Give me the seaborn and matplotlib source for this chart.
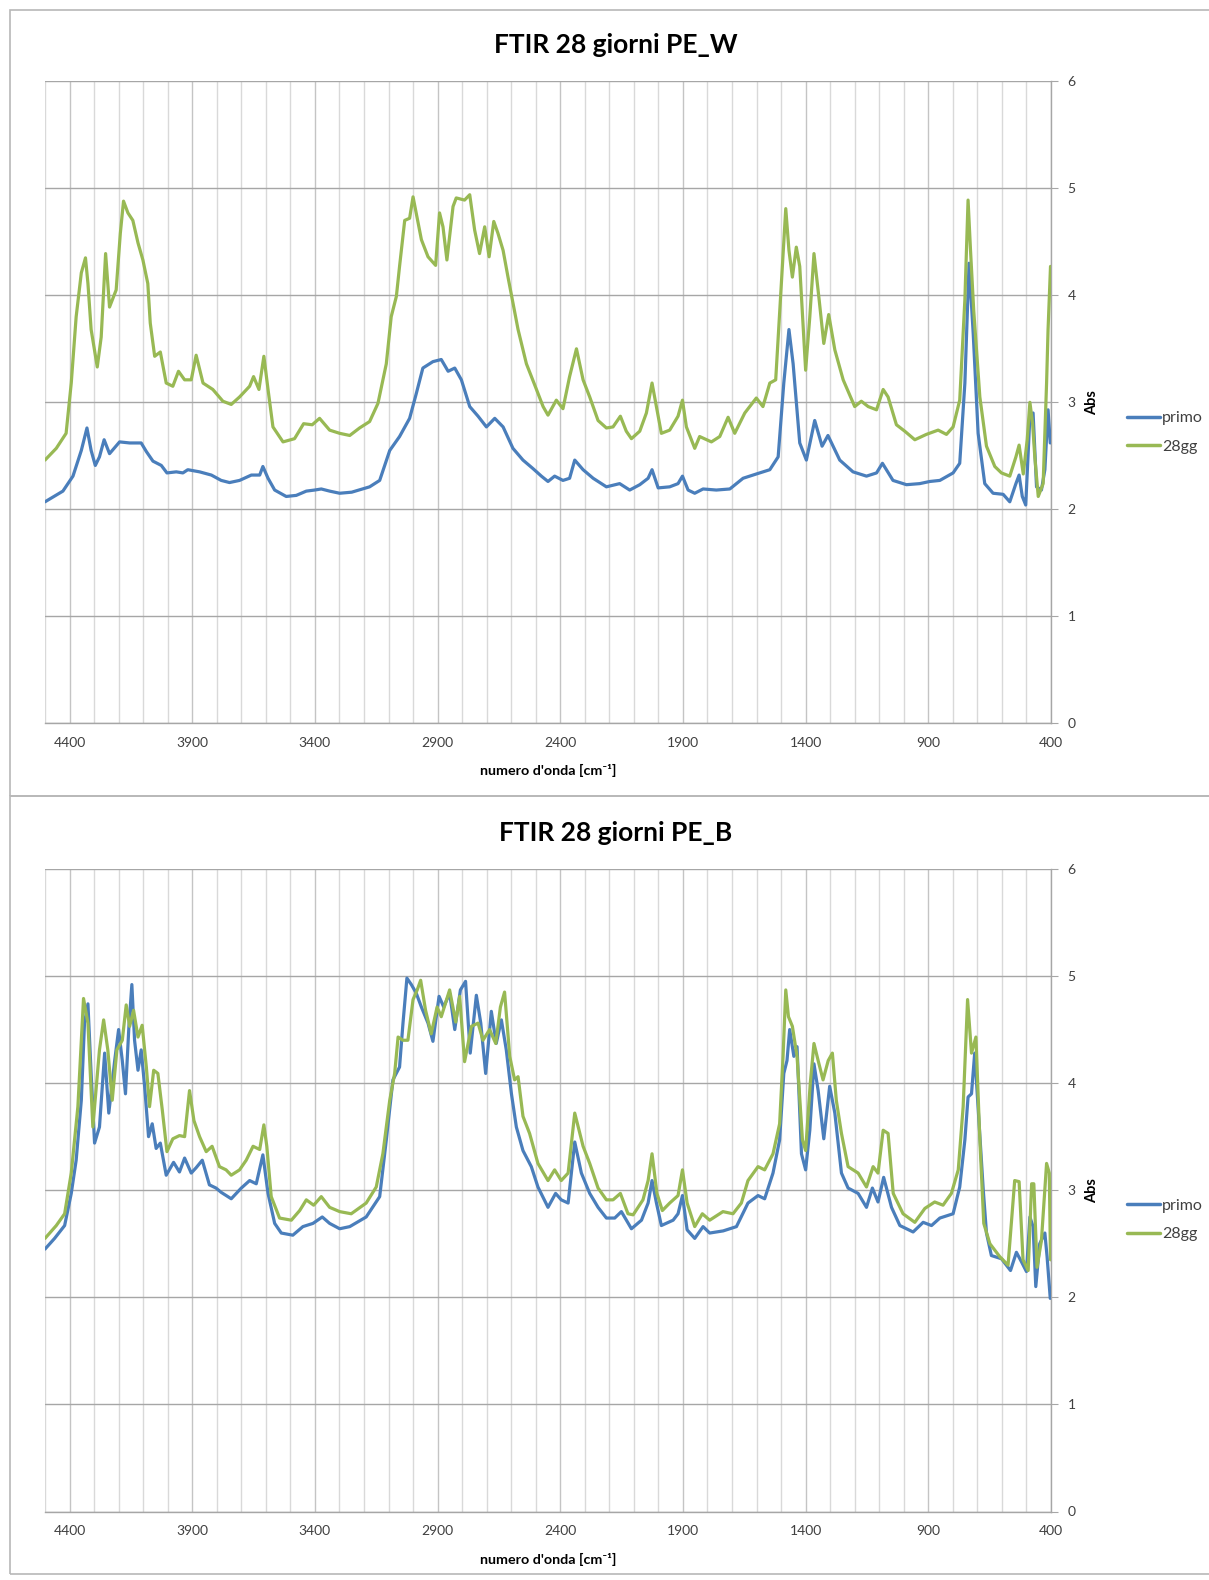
import numpy as np
import pandas as pd
import matplotlib
matplotlib.use("Agg")
import matplotlib.pyplot as plt
from matplotlib.patches import Rectangle
import seaborn as sns

# ---------------- data ----------------
series_names = ["primo", "28gg"]
panel_titles = ["FTIR 28 giorni PE_W", "FTIR 28 giorni PE_B"]
x_tick_labels = [4400, 3900, 3400, 2900, 2400, 1900, 1400, 900, 400]
y_tick_labels = [0, 1, 2, 3, 4, 5, 6]

W_primo_wn = [4500, 4427, 4386, 4352, 4329, 4312, 4295, 4278, 4259, 4237, 4196, 4155, 4108, 4087, 4060,
              4026, 4003, 3965, 3938, 3918, 3870, 3822, 3782, 3748, 3707, 3659, 3625, 3612, 3591, 3564,
              3517, 3476, 3435, 3401, 3374, 3340, 3299, 3250, 3177, 3136, 3095, 3055, 3014, 2987, 2960,
              2919, 2885, 2857, 2830, 2803, 2769, 2735, 2701, 2667, 2633, 2593, 2552, 2511, 2477, 2450,
              2423, 2389, 2362, 2341, 2307, 2266, 2212, 2158, 2117, 2076, 2042, 2026, 2001, 1954, 1920,
              1902, 1879, 1852, 1818, 1764, 1709, 1655, 1601, 1546, 1512, 1489, 1468, 1451, 1424, 1397,
              1363, 1333, 1309, 1261, 1207, 1152, 1111, 1087, 1044, 989, 935, 894, 853, 799, 772, 751,
              734, 717, 697, 670, 636, 595, 568, 543, 530, 517, 503, 486, 473, 459, 439, 425, 412, 403]
W_primo_abs = [2.07, 2.17, 2.31, 2.55, 2.76, 2.55, 2.41, 2.49, 2.65, 2.52, 2.63, 2.62, 2.62, 2.54, 2.45,
               2.41, 2.34, 2.35, 2.34, 2.37, 2.35, 2.32, 2.27, 2.25, 2.27, 2.32, 2.32, 2.40, 2.29, 2.18,
               2.12, 2.13, 2.17, 2.18, 2.19, 2.17, 2.15, 2.16, 2.21, 2.27, 2.55, 2.68, 2.85, 3.08, 3.32,
               3.38, 3.40, 3.29, 3.32, 3.21, 2.96, 2.87, 2.77, 2.85, 2.77, 2.57, 2.46, 2.38, 2.31, 2.26,
               2.31, 2.27, 2.29, 2.46, 2.37, 2.29, 2.21, 2.24, 2.18, 2.23, 2.29, 2.37, 2.20, 2.21, 2.24,
               2.31, 2.18, 2.15, 2.19, 2.18, 2.19, 2.29, 2.33, 2.37, 2.49, 3.18, 3.68, 3.36, 2.62, 2.46,
               2.83, 2.59, 2.69, 2.46, 2.35, 2.31, 2.34, 2.43, 2.27, 2.23, 2.24, 2.26, 2.27, 2.34, 2.43, 3.18,
               4.30, 3.64, 2.71, 2.24, 2.15, 2.14, 2.07, 2.24, 2.32, 2.12, 2.04, 2.87, 2.90, 2.21, 2.18, 2.37, 2.93, 2.62]

W_28gg_wn = [4500, 4454, 4414, 4393, 4373, 4352, 4335, 4325, 4312, 4287, 4271, 4253, 4237, 4210, 4193,
             4180, 4162, 4142, 4121, 4101, 4081, 4071, 4053, 4030, 4006, 3979, 3956, 3931, 3904, 3884,
             3856, 3816, 3775, 3741, 3707, 3666, 3650, 3628, 3608, 3591, 3571, 3530, 3483, 3446, 3411,
             3381, 3340, 3299, 3258, 3218, 3177, 3143, 3109, 3089, 3068, 3055, 3034, 3014, 3000, 2987,
             2966, 2939, 2908, 2892, 2878, 2862, 2837, 2824, 2790, 2769, 2749, 2729, 2708, 2690, 2671,
             2654, 2633, 2613, 2593, 2572, 2538, 2497, 2470, 2450, 2416, 2389, 2362, 2334, 2307, 2280,
             2246, 2212, 2185, 2155, 2131, 2110, 2076, 2049, 2026, 2001, 1988, 1954, 1920, 1902, 1886,
             1852, 1832, 1784, 1750, 1716, 1689, 1648, 1601, 1574, 1546, 1522, 1503, 1481, 1468, 1454,
             1438, 1424, 1400, 1383, 1366, 1345, 1326, 1306, 1281, 1247, 1200, 1173, 1145, 1111, 1084,
             1064, 1030, 996, 955, 908, 860, 826, 799, 772, 751, 738, 728, 715, 690, 663, 629, 602, 568,
             543, 530, 513, 497, 486, 475, 466, 452, 432, 418, 412, 402]
W_28gg_abs = [2.46, 2.57, 2.71, 3.18, 3.80, 4.21, 4.35, 4.11, 3.68, 3.33, 3.61, 4.39, 3.89, 4.05, 4.58,
              4.88, 4.77, 4.70, 4.49, 4.33, 4.11, 3.74, 3.43, 3.47, 3.18, 3.15, 3.29, 3.21, 3.21, 3.44,
              3.18, 3.12, 3.01, 2.98, 3.05, 3.15, 3.24, 3.12, 3.43, 3.12, 2.77, 2.63, 2.66, 2.80, 2.79,
              2.85, 2.74, 2.71, 2.69, 2.76, 2.82, 2.99, 3.36, 3.80, 3.99, 4.27, 4.70, 4.72, 4.92, 4.77,
              4.52, 4.36, 4.28, 4.77, 4.64, 4.33, 4.83, 4.91, 4.89, 4.94, 4.61, 4.39, 4.64, 4.36, 4.69,
              4.58, 4.42, 4.17, 3.93, 3.68, 3.36, 3.12, 2.96, 2.88, 3.02, 2.94, 3.24, 3.50, 3.21, 3.05,
              2.83, 2.76, 2.77, 2.87, 2.73, 2.66, 2.73, 2.90, 3.18, 2.87, 2.71, 2.74, 2.87, 3.02, 2.77,
              2.57, 2.68, 2.63, 2.68, 2.86, 2.71, 2.90, 3.04, 2.96, 3.18, 3.21, 3.96, 4.81, 4.42, 4.17,
              4.45, 4.27, 3.30, 3.80, 4.39, 3.96, 3.55, 3.82, 3.49, 3.21, 2.96, 3.01, 2.96, 2.93, 3.12,
              3.05, 2.79, 2.73, 2.65, 2.70, 2.74, 2.70, 2.77, 3.02, 3.96, 4.89, 4.42, 3.86, 3.05, 2.59, 2.40, 2.34, 2.31,
              2.49, 2.60, 2.33, 2.65, 3.00, 2.80, 2.49, 2.12, 2.24, 3.18, 3.68, 4.27]

B_primo_wn = [4500, 4461, 4420, 4393, 4373, 4352, 4339, 4325, 4312, 4298, 4278, 4257, 4240, 4216, 4200,
              4185, 4172, 4158, 4146, 4135, 4121, 4108, 4094, 4078, 4063, 4047, 4030, 4006, 3976, 3952,
              3931, 3904, 3884, 3859, 3830, 3803, 3782, 3741, 3700, 3666, 3639, 3612, 3591, 3564, 3537,
              3490, 3449, 3408, 3370, 3340, 3299, 3258, 3191, 3136, 3109, 3082, 3055, 3041, 3025, 3007,
              2987, 2966, 2939, 2919, 2894, 2875, 2851, 2830, 2807, 2786, 2767, 2742, 2724, 2704, 2681,
              2661, 2640, 2620, 2599, 2579, 2552, 2518, 2491, 2450, 2419, 2396, 2368, 2341, 2314, 2280,
              2246, 2212, 2178, 2151, 2110, 2069, 2042, 2026, 2008, 1988, 1940, 1920, 1902, 1883, 1852,
              1818, 1791, 1736, 1682, 1635, 1594, 1567, 1533, 1506, 1489, 1476, 1465, 1448, 1435, 1417,
              1400, 1383, 1366, 1349, 1326, 1302, 1281, 1254, 1227, 1186, 1152, 1128, 1105, 1082, 1050,
              1016, 962, 921, 887, 853, 799, 772, 751, 738, 724, 711, 693, 676, 663, 643, 602, 565, 541,
              520, 500, 486, 473, 462, 446, 425, 416, 403]
B_primo_abs = [2.45, 2.55, 2.67, 2.97, 3.28, 3.84, 4.56, 4.74, 4.09, 3.44, 3.59, 4.28, 3.72, 4.21, 4.50,
               4.21, 3.90, 4.53, 4.92, 4.40, 4.12, 4.31, 3.97, 3.50, 3.62, 3.39, 3.44, 3.14, 3.26, 3.17,
               3.30, 3.16, 3.21, 3.28, 3.05, 3.02, 2.98, 2.92, 3.02, 3.09, 3.06, 3.33, 2.97, 2.69, 2.60,
               2.58, 2.66, 2.69, 2.75, 2.69, 2.64, 2.66, 2.75, 2.94, 3.47, 4.03, 4.15, 4.56, 4.98, 4.92,
               4.84, 4.71, 4.56, 4.39, 4.81, 4.71, 4.84, 4.50, 4.87, 4.95, 4.28, 4.82, 4.56, 4.09, 4.67,
               4.37, 4.59, 4.31, 3.90, 3.59, 3.37, 3.22, 3.03, 2.84, 2.97, 2.91, 2.88, 3.45, 3.16, 2.97,
               2.84, 2.74, 2.74, 2.80, 2.64, 2.72, 2.88, 3.09, 2.88, 2.67, 2.72, 2.78, 2.95, 2.63, 2.55,
               2.66, 2.60, 2.62, 2.66, 2.88, 2.95, 2.92, 3.16, 3.47, 4.09, 4.21, 4.50, 4.25, 4.34, 3.34,
               3.19, 3.56, 4.18, 3.93, 3.48, 3.97, 3.72, 3.16, 3.02, 2.97, 2.84, 3.02, 2.89, 3.12, 2.84,
               2.67, 2.61, 2.70, 2.67, 2.74, 2.78, 3.03, 3.47, 3.87, 3.90, 4.28, 3.62, 3.00, 2.60, 2.39, 2.36, 2.25, 2.42,
               2.33, 2.24, 2.75, 2.66, 2.10, 2.50, 2.60, 2.38, 1.99]

B_28gg_wn = [4500, 4454, 4420, 4393, 4366, 4343, 4325, 4305, 4278, 4261, 4244, 4226, 4207, 4185, 4169,
             4155, 4139, 4121, 4104, 4087, 4074, 4057, 4040, 4022, 4003, 3979, 3952, 3931, 3911, 3893,
             3870, 3843, 3819, 3789, 3762, 3741, 3707, 3680, 3652, 3625, 3608, 3596, 3578, 3544, 3496,
             3462, 3435, 3405, 3374, 3340, 3299, 3252, 3191, 3150, 3123, 3095, 3075, 3061, 3041, 3021,
             3000, 2983, 2969, 2949, 2926, 2902, 2885, 2851, 2826, 2810, 2790, 2762, 2735, 2715, 2688,
             2663, 2644, 2627, 2606, 2586, 2572, 2552, 2525, 2491, 2450, 2423, 2396, 2368, 2341, 2307,
             2280, 2246, 2212, 2185, 2155, 2124, 2103, 2063, 2042, 2026, 2006, 1984, 1954, 1920, 1902,
             1883, 1852, 1821, 1791, 1737, 1696, 1662, 1635, 1594, 1567, 1533, 1506, 1492, 1481, 1470,
             1454, 1435, 1413, 1400, 1381, 1366, 1349, 1329, 1308, 1291, 1275, 1254, 1227, 1186, 1152,
             1125, 1105, 1084, 1064, 1043, 1003, 955, 914, 874, 840, 806, 778, 758, 740, 724, 706, 690,
             674, 649, 609, 575, 548, 530, 514, 493, 479, 470, 457, 439, 418, 407, 402]
B_28gg_abs = [2.55, 2.67, 2.78, 3.16, 3.78, 4.79, 4.56, 3.59, 4.31, 4.59, 4.31, 3.84, 4.31, 4.40, 4.73,
              4.53, 4.68, 4.43, 4.54, 4.15, 3.78, 4.12, 4.09, 3.75, 3.36, 3.48, 3.51, 3.50, 3.93, 3.65,
              3.50, 3.36, 3.41, 3.22, 3.19, 3.14, 3.19, 3.28, 3.41, 3.38, 3.61, 3.41, 2.94, 2.74, 2.72,
              2.81, 2.91, 2.86, 2.94, 2.84, 2.80, 2.78, 2.88, 3.03, 3.34, 3.84, 4.09, 4.43, 4.40, 4.40,
              4.78, 4.87, 4.96, 4.68, 4.46, 4.71, 4.62, 4.87, 4.57, 4.81, 4.20, 4.53, 4.56, 4.40, 4.50,
              4.37, 4.71, 4.85, 4.25, 4.03, 4.06, 3.69, 3.53, 3.25, 3.09, 3.19, 3.09, 3.16, 3.72, 3.41,
              3.25, 3.02, 2.91, 2.91, 2.97, 2.78, 2.77, 2.91, 3.09, 3.34, 2.97, 2.81, 2.88, 2.95, 3.19,
              2.88, 2.66, 2.78, 2.72, 2.80, 2.78, 2.88, 3.09, 3.22, 3.19, 3.34, 3.62, 4.25, 4.87, 4.62,
              4.53, 4.25, 3.47, 3.37, 4.00, 4.37, 4.21, 4.03, 4.21, 4.28, 3.84, 3.53, 3.22, 3.16, 3.03,
              3.22, 3.16, 3.56, 3.53, 2.97, 2.78, 2.70, 2.83, 2.89, 2.86, 2.97, 3.19, 3.78, 4.78, 4.28, 4.43, 3.47,
              2.69, 2.50, 2.38, 2.30, 3.09, 3.08, 2.35, 2.25, 3.06, 3.06, 2.28, 2.53, 3.25, 3.16, 2.35]

panels = [
    (W_primo_wn, W_primo_abs, W_28gg_wn, W_28gg_abs),
    (B_primo_wn, B_primo_abs, B_28gg_wn, B_28gg_abs),
]

# ---------------- styling ----------------
sns.set_style("white")
plt.rcParams["font.family"] = ["Lato", "DejaVu Sans"]
plt.rcParams["axes.unicode_minus"] = False

W, H = 1209, 1580
fig = plt.figure(figsize=(W / 100, H / 100), dpi=100)
fig.patch.set_facecolor("white")

palette = {"primo": "#4a7ebb", "28gg": "#98b954"}
tick_color = "#404040"

# chart area borders
border_col = "#b8b8b8"
fig.add_artist(Rectangle((10 / W, 1 - 796 / H), 1.2, (796 - 10) / H, transform=fig.transFigure,
                         fill=False, edgecolor=border_col, lw=1.2))
fig.add_artist(Rectangle((10 / W, 1 - 1574 / H), 1.2, (1574 - 796) / H, transform=fig.transFigure,
                         fill=False, edgecolor=border_col, lw=1.2))

ax_left, ax_width = 45 / W, (1051 - 45) / W
axes_boxes = [
    (1 - 723.3 / H, (723.3 - 81.3) / H),
    (1 - 1511.5 / H, (1511.5 - 868.9) / H),
]
title_y = [45, 833]
legend_y = [432.5, 1220]

for i, ((pw, pa, gw, ga), (bot, hgt)) in enumerate(zip(panels, axes_boxes)):
    ax = fig.add_axes([ax_left, bot, ax_width, hgt])
    df = pd.concat([
        pd.DataFrame({"wn": pw, "abs": pa, "serie": "primo"}),
        pd.DataFrame({"wn": gw, "abs": ga, "serie": "28gg"}),
    ], ignore_index=True)
    sns.lineplot(data=df, x="wn", y="abs", hue="serie", hue_order=series_names,
                 palette=palette, estimator=None, lw=2.3, ax=ax, legend=True, zorder=3,
                 solid_joinstyle="round", solid_capstyle="round")

    ax.set_xlim(4500, 400)
    ax.set_ylim(0, 6)
    ax.set_xticks(x_tick_labels)
    ax.set_xticklabels([str(v) for v in x_tick_labels])
    ax.set_xticks(np.arange(400, 4501, 100), minor=True)
    ax.set_yticks(y_tick_labels)
    ax.set_yticklabels([str(v) for v in y_tick_labels])

    ax.grid(which="minor", axis="x", color="#d9d9d9", lw=1.0, zorder=0)
    ax.grid(which="major", axis="x", color="#c4c4c4", lw=1.0, zorder=0)
    ax.grid(which="major", axis="y", color="#a6a6a6", lw=1.0, zorder=0)
    ax.set_axisbelow(True)

    ax.yaxis.tick_right()
    ax.yaxis.set_label_position("right")
    ax.tick_params(axis="x", which="both", length=0, pad=10, labelsize=10, labelcolor=tick_color)
    ax.tick_params(axis="y", which="both", length=5, color="#a6a6a6", pad=7, labelsize=10,
                   labelcolor=tick_color)
    for side in ["left", "top"]:
        ax.spines[side].set_visible(False)
    for side in ["right", "bottom"]:
        ax.spines[side].set_color("#a6a6a6")
        ax.spines[side].set_linewidth(1.0)

    ax.set_xlabel("numero d'onda [cm⁻¹]", fontsize=10.3, fontweight="bold", color="#000000")
    ax.xaxis.set_label_coords(0.5, -0.064)
    ax.set_ylabel("Abs", fontsize=10.5, fontweight="bold", color="#000000")
    ax.yaxis.set_label_coords(1.034, 0.5)

    fig.text(616 / W, 1 - title_y[i] / H, panel_titles[i], ha="center", va="center",
             fontsize=19, fontweight="bold", color="#000000")

    handles, labels = ax.get_legend_handles_labels()
    leg = ax.legend(handles, labels, loc="center left",
                    bbox_to_anchor=(1127 / W, 1 - legend_y[i] / H), bbox_transform=fig.transFigure,
                    frameon=False, fontsize=11.5, handlelength=2.05, handletextpad=0.15,
                    labelspacing=0.9, borderpad=0, borderaxespad=0)
    for t in leg.get_texts():
        t.set_color(tick_color)
    for l in leg.get_lines():
        l.set_linewidth(2.5)

fig.savefig("out.png", dpi=100, facecolor="white")
